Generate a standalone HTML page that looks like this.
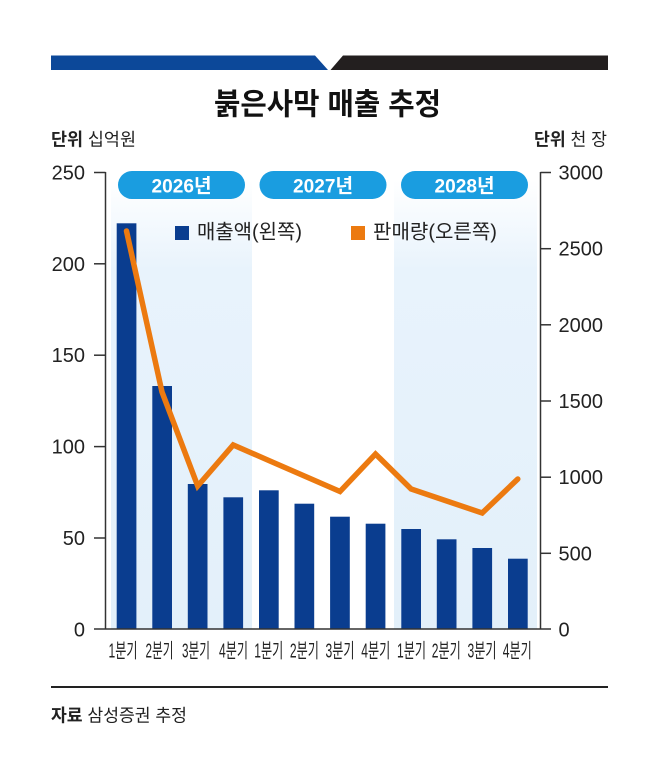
<!DOCTYPE html>
<html><head><meta charset="utf-8">
<style>
html,body{margin:0;padding:0;background:#fff;}
svg{display:block;}
text{font-family:"Liberation Sans","Noto Sans CJK KR",sans-serif;}
</style></head>
<body>
<svg width="658" height="758" viewBox="0 0 658 758" xmlns="http://www.w3.org/2000/svg">
<defs>
<linearGradient id="sh" x1="0" y1="0" x2="0" y2="1">
<stop offset="0" stop-color="#ffffff"/>
<stop offset="0.2" stop-color="#e8f3fc"/>
<stop offset="1" stop-color="#e3f0fa"/>
</linearGradient>
</defs>
<rect width="658" height="758" fill="#fff"/>
<!-- top bar -->
<polygon points="51,55.5 315,55.5 328,70 51,70" fill="#0c4899"/>
<polygon points="343,55.5 608,55.5 608,70 330.5,70" fill="#231f1f"/>
<!-- title -->
<text x="327.5" y="114.5" font-size="30" font-weight="bold" text-anchor="middle" textLength="227" lengthAdjust="spacingAndGlyphs" fill="#111">붉은사막 매출 추정</text>
<!-- units -->
<text x="51" y="145.5" font-size="17.5" fill="#222" textLength="85" lengthAdjust="spacingAndGlyphs"><tspan font-weight="bold">단위</tspan> 십억원</text>
<text x="607" y="145.5" font-size="17.5" fill="#222" text-anchor="end" textLength="73" lengthAdjust="spacingAndGlyphs"><tspan font-weight="bold">단위</tspan> 천 장</text>
<!-- shading -->
<rect x="111" y="180" width="141" height="449" fill="url(#sh)"/>
<rect x="394" y="180" width="143" height="449" fill="url(#sh)"/>
<!-- pills -->
<rect x="118" y="171" width="127" height="28" rx="14" fill="#1a9de0"/>
<rect x="259.5" y="171" width="127" height="28" rx="14" fill="#1a9de0"/>
<rect x="401" y="171" width="127" height="28" rx="14" fill="#1a9de0"/>
<text x="181.5" y="192.5" font-size="19.5" font-weight="bold" fill="#fff" text-anchor="middle" textLength="60" lengthAdjust="spacingAndGlyphs">2026년</text>
<text x="323" y="192.5" font-size="19.5" font-weight="bold" fill="#fff" text-anchor="middle" textLength="60" lengthAdjust="spacingAndGlyphs">2027년</text>
<text x="464.5" y="192.5" font-size="19.5" font-weight="bold" fill="#fff" text-anchor="middle" textLength="60" lengthAdjust="spacingAndGlyphs">2028년</text>
<!-- legend -->
<rect x="175" y="226" width="14" height="14" fill="#0a3d8f"/>
<text x="197" y="238.5" font-size="20" fill="#222" textLength="105" lengthAdjust="spacingAndGlyphs">매출액(왼쪽)</text>
<rect x="351" y="226" width="14" height="14" fill="#ec7a10"/>
<text x="373" y="238.5" font-size="20" fill="#222" textLength="124" lengthAdjust="spacingAndGlyphs">판매량(오른쪽)</text>
<!-- bars -->
<g fill="#0a3d8f">
<rect x="116.7" y="223.3" width="19.7" height="405.7"/>
<rect x="152.3" y="386" width="19.7" height="243"/>
<rect x="187.8" y="484" width="19.7" height="145"/>
<rect x="223.4" y="497.3" width="19.7" height="131.7"/>
<rect x="259.0" y="490.3" width="19.7" height="138.7"/>
<rect x="294.5" y="503.7" width="19.7" height="125.3"/>
<rect x="330.1" y="516.7" width="19.7" height="112.3"/>
<rect x="365.7" y="523.7" width="19.7" height="105.3"/>
<rect x="401.3" y="529" width="19.7" height="100"/>
<rect x="436.8" y="539.3" width="19.7" height="89.7"/>
<rect x="472.4" y="548" width="19.7" height="81"/>
<rect x="508.0" y="558.7" width="19.7" height="70.3"/>
</g>
<!-- line -->
<path d="M126.5,231 Q146,320 162,392 L197.7,486 L233.2,445 L268.8,460.5 L304.4,476 L340,491.5 L375.5,454 L411.1,489 L446.7,501 L482.2,513 L517.8,479" fill="none" stroke="#ec7a10" stroke-width="5.5" stroke-linejoin="miter" stroke-linecap="round"/>
<!-- axes -->
<g stroke="#333" stroke-width="1.5" fill="none">
<line x1="105.5" y1="172" x2="105.5" y2="629"/>
<line x1="540.5" y1="172" x2="540.5" y2="629"/>
<line x1="94" y1="629" x2="551" y2="629"/>
<line x1="94" y1="172.5" x2="105.5" y2="172.5"/>
<line x1="94" y1="263.8" x2="105.5" y2="263.8"/>
<line x1="94" y1="355.2" x2="105.5" y2="355.2"/>
<line x1="94" y1="446.6" x2="105.5" y2="446.6"/>
<line x1="94" y1="538" x2="105.5" y2="538"/>
<line x1="540.5" y1="172.5" x2="551" y2="172.5"/>
<line x1="540.5" y1="248.7" x2="551" y2="248.7"/>
<line x1="540.5" y1="324.8" x2="551" y2="324.8"/>
<line x1="540.5" y1="401" x2="551" y2="401"/>
<line x1="540.5" y1="477.2" x2="551" y2="477.2"/>
<line x1="540.5" y1="553.3" x2="551" y2="553.3"/>
</g>
<!-- left ticks labels -->
<g font-size="20" fill="#222" text-anchor="end">
<text x="85" y="179.5">250</text>
<text x="85" y="270.8">200</text>
<text x="85" y="362.2">150</text>
<text x="85" y="453.6">100</text>
<text x="85" y="545">50</text>
<text x="85" y="636.4">0</text>
</g>
<g font-size="20" fill="#222" text-anchor="start">
<text x="558.5" y="179.5">3000</text>
<text x="558.5" y="255.7">2500</text>
<text x="558.5" y="331.8">2000</text>
<text x="558.5" y="408">1500</text>
<text x="558.5" y="484.2">1000</text>
<text x="558.5" y="560.3">500</text>
<text x="558.5" y="636.4">0</text>
</g>
<!-- x labels -->
<g font-size="20" fill="#222" text-anchor="middle">
<text x="123" y="657.5" textLength="29" lengthAdjust="spacingAndGlyphs">1분기</text>
<text x="159.5" y="657.5" textLength="28" lengthAdjust="spacingAndGlyphs">2분기</text>
<text x="196" y="657.5" textLength="28" lengthAdjust="spacingAndGlyphs">3분기</text>
<text x="233.5" y="657.5" textLength="29" lengthAdjust="spacingAndGlyphs">4분기</text>
<text x="268.8" y="657.5" textLength="29" lengthAdjust="spacingAndGlyphs">1분기</text>
<text x="304.4" y="657.5" textLength="29" lengthAdjust="spacingAndGlyphs">2분기</text>
<text x="340" y="657.5" textLength="29" lengthAdjust="spacingAndGlyphs">3분기</text>
<text x="375.8" y="657.5" textLength="29" lengthAdjust="spacingAndGlyphs">4분기</text>
<text x="411.5" y="657.5" textLength="29" lengthAdjust="spacingAndGlyphs">1분기</text>
<text x="446.3" y="657.5" textLength="29" lengthAdjust="spacingAndGlyphs">2분기</text>
<text x="482" y="657.5" textLength="29" lengthAdjust="spacingAndGlyphs">3분기</text>
<text x="517.3" y="657.5" textLength="29" lengthAdjust="spacingAndGlyphs">4분기</text>
</g>
<!-- footer -->
<line x1="51" y1="687" x2="608" y2="687" stroke="#222" stroke-width="2"/>
<text x="51" y="721.5" font-size="17.5" fill="#222" textLength="136" lengthAdjust="spacingAndGlyphs"><tspan font-weight="bold">자료</tspan> 삼성증권 추정</text>
</svg>
</body></html>
